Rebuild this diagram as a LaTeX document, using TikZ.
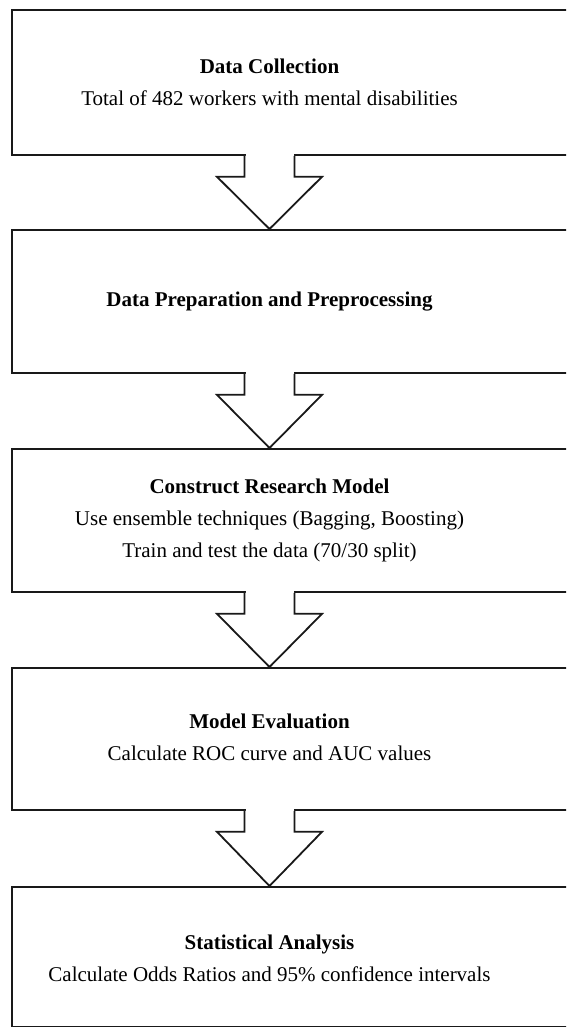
\documentclass[tikz,border=0pt]{standalone}
\usepackage{fontspec}
\setmainfont{Liberation Serif}
\usetikzlibrary{calc}
\begin{document}
\begin{tikzpicture}[x=1pt,y=1pt,
  stagebox/.style={draw=black!90, line width=1.8pt, rectangle, anchor=north west, minimum width=700pt, inner sep=0pt},
  stagetext/.style={align=center, font=\fontsize{21}{32}\selectfont, inner sep=0pt},
  blockarrow/.style={draw=black!90, line width=1.8pt, fill=white, line join=miter}
]
\clip (0,0) rectangle (566,-1027);
\fill[white] (0,0) rectangle (566,-1027);
% boxes
\node[stagebox, minimum height=145pt] (b1) at (11,-9) {};
\node[stagebox, minimum height=143pt] (b2) at (11,-229) {};
\node[stagebox, minimum height=143pt] (b3) at (11,-448) {};
\node[stagebox, minimum height=142pt] (b4) at (11,-667) {};
\node[stagebox, minimum height=140pt] (b5) at (11,-886) {};
% texts
\node[stagetext] (t1) at (269.5,-82.5) {\textbf{Data Collection}\\Total of 482 workers with mental disabilities};
\node[stagetext] (t2) at (269.5,-302) {\textbf{Data Preparation and Preprocessing}};
\node[stagetext] (t3) at (269.5,-520) {\textbf{Construct Research Model}\\Use ensemble techniques (Bagging, Boosting)\\Train and test the data (70/30 split)};
\node[stagetext] (t4) at (269.5,-737.5) {\textbf{Model Evaluation}\\Calculate ROC curve and AUC values};
\node[stagetext] (t5) at (269.5,-958) {\textbf{Statistical Analysis}\\Calculate Odds Ratios and 95\% confidence intervals};
% block arrows
\foreach \s/\t in {b1/b2, b2/b3, b3/b4, b4/b5}{
  \coordinate (base) at ($(\s.south west)+(258.5,0)$);
  \coordinate (tip) at ($(\t.north west)+(258.5,0)$);
  \fill[white] ($(base)+(-24,2)$) rectangle ($(base)+(24,-2)$);
  \draw[blockarrow] ($(base)+(-25,0)$) -- ($(base)+(-25,-21)$) -- ($(base)+(-52.5,-21)$)
     -- (tip) -- ($(base)+(52.5,-21)$) -- ($(base)+(25,-21)$) -- ($(base)+(25,0)$);
}
\end{tikzpicture}
\end{document}
